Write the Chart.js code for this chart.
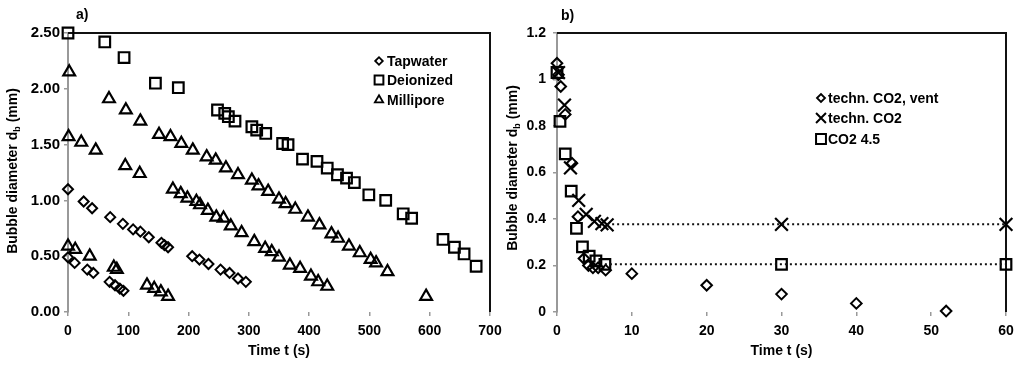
<!DOCTYPE html>
<html><head><meta charset="utf-8">
<script src="https://cdn.jsdelivr.net/npm/chart.js@4.4.1/dist/chart.umd.min.js"></script>
<style>
html,body{margin:0;padding:0;background:#fff;width:1024px;height:366px;overflow:hidden}
#ca{position:absolute;left:0;top:0}
#cb{position:absolute;left:500px;top:0}
</style></head><body>
<canvas id="ca" width="512" height="366"></canvas>
<canvas id="cb" width="524" height="366"></canvas>
<script>
// ---------- Panel a) data : time t (s) / bubble diameter (mm) ----------
const tapT1 = [0, 26, 40, 70, 91, 108, 120, 134, 155, 160, 166, 206, 218, 233, 253, 268, 282, 295];
const tapD1 = [1.10, 0.99, 0.93, 0.85, 0.79, 0.74, 0.72, 0.67, 0.62, 0.60, 0.58, 0.50, 0.47, 0.43, 0.38, 0.35, 0.30, 0.27];
const tapT2 = [0, 11, 32, 42, 69, 78, 86, 92];
const tapD2 = [0.49, 0.44, 0.38, 0.35, 0.27, 0.24, 0.21, 0.19];

const deiT = [0, 61, 93, 145, 183, 248, 260, 266, 277, 305, 313, 328, 356, 365, 389, 413, 430, 447, 462, 475, 499, 527, 556, 570, 622, 641, 657, 677];
const deiD = [2.50, 2.42, 2.28, 2.05, 2.01, 1.81, 1.78, 1.75, 1.71, 1.66, 1.63, 1.60, 1.51, 1.50, 1.37, 1.35, 1.29, 1.23, 1.20, 1.16, 1.05, 1.00, 0.88, 0.84, 0.65, 0.58, 0.52, 0.41];

const milT1 = [2, 68, 96, 120, 151, 170, 188, 207, 230, 245, 262, 282, 305, 316, 332, 350, 361, 377, 398, 417, 437, 448, 466, 484, 502, 511, 530, 594];
const milD1 = [2.15, 1.91, 1.81, 1.71, 1.59, 1.57, 1.51, 1.45, 1.39, 1.36, 1.29, 1.23, 1.18, 1.13, 1.08, 1.01, 0.97, 0.92, 0.85, 0.78, 0.70, 0.66, 0.59, 0.53, 0.47, 0.44, 0.36, 0.14];
const milT2 = [1, 22, 46, 95, 119, 174, 187, 198, 213, 219, 232, 246, 258, 270, 288, 309, 327, 338, 350, 368, 385, 403, 415, 430];
const milD2 = [1.57, 1.52, 1.45, 1.31, 1.24, 1.10, 1.06, 1.02, 0.99, 0.96, 0.91, 0.85, 0.84, 0.77, 0.71, 0.63, 0.57, 0.54, 0.49, 0.42, 0.39, 0.32, 0.27, 0.23];
const milT3 = [0, 12, 36, 76, 81, 131, 143, 154, 166];
const milD3 = [0.59, 0.56, 0.50, 0.40, 0.38, 0.24, 0.21, 0.18, 0.14];

const aLegend = ['Tapwater', 'Deionized', 'Millipore'];
const aXTicks = [0, 700, 100];      // min, max, step
const aYTicks = [0, 2.5, 0.5];

// ---------- Panel b) data ----------
const ventT = [0, 0.2, 0.5, 1.1, 2.0, 2.8, 3.6, 4.2, 4.8, 5.5, 6.5, 10, 20, 30, 40, 52];
const ventD = [1.07, 1.02, 0.97, 0.85, 0.64, 0.41, 0.23, 0.20, 0.19, 0.19, 0.18, 0.165, 0.115, 0.077, 0.037, 0.004];
const techT = [0.2, 1.0, 1.8, 2.9, 3.9, 5.0, 6.0, 6.7, 30, 60];
const techD = [1.03, 0.89, 0.62, 0.48, 0.42, 0.39, 0.38, 0.375, 0.377, 0.377];
const co2T = [0, 0.4, 1.1, 1.9, 2.6, 3.4, 4.3, 5.2, 6.4, 30, 60];
const co2D = [1.03, 0.82, 0.68, 0.52, 0.36, 0.28, 0.24, 0.22, 0.205, 0.205, 0.205];
const techLineT = [6.7, 30, 60];
const techLineD = [0.377, 0.377, 0.377];
const co2LineT = [6.4, 30, 60];
const co2LineD = [0.205, 0.205, 0.205];

const bLegend = ['techn. CO2, vent', 'techn. CO2', 'CO2 4.5'];
const bXTicks = [0, 60, 10];
const bYTicks = [0, 1.2, 0.2];

// ---------- helpers ----------
const FONT = "'Liberation Sans', Arial, sans-serif";
const pts = (xs, ys) => xs.map((x, i) => ({x: x, y: ys[i]}));

function scatterSet(label, data, style, r, bw) {
  return {label, data, showLine: false, pointStyle: style, pointRadius: r, pointHoverRadius: r,
    pointBorderWidth: bw, borderColor: '#000', pointBorderColor: '#000',
    backgroundColor: 'rgba(0,0,0,0)', pointBackgroundColor: 'rgba(0,0,0,0)', clip: false};
}
function dottedSet(data) {
  return {label: '', data, showLine: true, pointRadius: 0, borderColor: '#111', borderWidth: 2,
    borderDash: [2, 3], fill: false, clip: false};
}

function marker(ctx, style, x, y, r, lw) {
  ctx.save();
  ctx.strokeStyle = '#000'; ctx.lineWidth = lw; ctx.beginPath();
  if (style === 'rectRot') {
    ctx.moveTo(x - r, y); ctx.lineTo(x, y - r); ctx.lineTo(x + r, y); ctx.lineTo(x, y + r); ctx.closePath();
  } else if (style === 'rect') {
    const s = r * Math.SQRT1_2; ctx.rect(x - s, y - s, 2 * s, 2 * s);
  } else if (style === 'triangle') {
    let a = 0;
    ctx.moveTo(x + Math.sin(a) * r, y - Math.cos(a) * r);
    a += 2 * Math.PI / 3; ctx.lineTo(x + Math.sin(a) * r, y - Math.cos(a) * r);
    a += 2 * Math.PI / 3; ctx.lineTo(x + Math.sin(a) * r, y - Math.cos(a) * r);
    ctx.closePath();
  } else if (style === 'crossRot') {
    const s = r * Math.SQRT1_2;
    ctx.moveTo(x - s, y - s); ctx.lineTo(x + s, y + s); ctx.moveTo(x + s, y - s); ctx.lineTo(x - s, y + s);
  }
  ctx.stroke(); ctx.restore();
}

function decor(o) {
  return {
    id: 'decor',
    beforeDatasetsDraw(chart) {
      const c = chart.ctx, a = chart.chartArea;
      c.save(); c.strokeStyle = '#111'; c.lineWidth = 2;
      c.beginPath(); c.moveTo(a.left, a.top); c.lineTo(a.right, a.top); c.lineTo(a.right, a.bottom); c.stroke();
      c.restore();
    },
    afterDraw(chart) {
      const c = chart.ctx;
      c.save();
      c.fillStyle = '#000'; c.textBaseline = 'middle'; c.textAlign = 'left';
      c.font = 'bold 14px ' + FONT;
      c.fillText(o.tag, o.tagX, o.tagY);
      // legend
      o.legend.forEach(l => {
        marker(c, l.style, l.mx, l.y, l.r, l.lw);
        c.fillStyle = '#000'; c.font = 'bold 14px ' + FONT; c.textAlign = 'left';
        c.fillText(l.text, l.tx, l.y + 1);
      });
      // y title with subscript
      const big = 'bold 14px ' + FONT, small = 'bold 9px ' + FONT;
      const p1 = 'Bubble diameter d', p2 = 'b', p3 = ' (mm)';
      c.font = big; const w1 = c.measureText(p1).width, w3 = c.measureText(p3).width;
      c.font = small; const w2 = c.measureText(p2).width;
      const tot = w1 + w2 + w3;
      c.translate(o.ytX, o.ytY); c.rotate(-Math.PI / 2);
      c.textBaseline = 'alphabetic';
      let x0 = -tot / 2;
      c.font = big; c.fillText(p1, x0, 5); x0 += w1;
      c.font = small; c.fillText(p2, x0, 8); x0 += w2;
      c.font = big; c.fillText(p3, x0, 5);
      c.restore();
    }
  };
}

function makeChart(id, o) {
  return new Chart(document.getElementById(id), {
    type: 'scatter',
    data: {datasets: o.datasets},
    options: {
      responsive: false, animation: false, devicePixelRatio: 1,
      layout: {padding: {top: 33, right: o.padRight, bottom: 0, left: 0}},
      plugins: {legend: {display: false}, tooltip: {enabled: false}},
      scales: {
        x: {
          type: 'linear', min: o.xt[0], max: o.xt[1],
          afterFit: s => { s.height = 54; },
          ticks: {stepSize: o.xt[2], color: '#000', font: {family: FONT, size: 14, weight: 'bold'},
            padding: 7, maxRotation: 0, autoSkip: false},
          grid: {display: true, drawOnChartArea: false, drawTicks: true, tickLength: 4, color: '#999', lineWidth: 1.5},
          border: {display: false},
          title: {display: true, text: 'Time t (s)', color: '#000',
            font: {family: FONT, size: 14, weight: 'bold'}, padding: {top: 0, bottom: 6}}
        },
        y: {
          type: 'linear', min: o.yt[0], max: o.yt[1],
          afterFit: s => { s.width = o.yWidth; },
          ticks: {stepSize: o.yt[2], color: '#000', font: {family: FONT, size: o.ySize, weight: 'bold'},
            padding: o.yPad, callback: o.yFmt},
          grid: {display: true, drawOnChartArea: false, drawTicks: true, tickLength: 4, color: '#999', lineWidth: 1.5},
          border: {display: true, color: '#999', width: 2}
        }
      }
    },
    plugins: [decor(o)]
  });
}

// ---------- Panel a ----------
makeChart('ca', {
  xt: aXTicks, yt: aYTicks, yWidth: 68, padRight: 22, ySize: 15, yPad: 4,
  yFmt: v => Number(v).toFixed(2),
  tag: 'a)', tagX: 76, tagY: 15, ytX: 12, ytY: 171,
  datasets: [
    scatterSet(aLegend[0], pts(tapT1.concat(tapT2), tapD1.concat(tapD2)), 'rectRot', 5, 2),
    scatterSet(aLegend[1], pts(deiT, deiD), 'rect', 7.5, 2.2),
    scatterSet(aLegend[2], pts(milT1.concat(milT2, milT3), milD1.concat(milD2, milD3)), 'triangle', 6.8, 2.2)
  ],
  legend: [
    {style: 'rectRot', r: 3.8, lw: 1.8, mx: 379, tx: 387, y: 61, text: aLegend[0]},
    {style: 'rect', r: 6.2, lw: 2, mx: 379, tx: 387, y: 80, text: aLegend[1]},
    {style: 'triangle', r: 4.8, lw: 1.8, mx: 379, tx: 387, y: 100, text: aLegend[2]}
  ]
});

// ---------- Panel b ----------
makeChart('cb', {
  xt: bXTicks, yt: bYTicks, yWidth: 57, padRight: 18, ySize: 14, yPad: 7,
  yFmt: v => String(Math.round(v * 10) / 10),
  tag: 'b)', tagX: 61, tagY: 16, ytX: 12, ytY: 168,
  datasets: [
    dottedSet(pts(techLineT, techLineD)),
    dottedSet(pts(co2LineT, co2LineD)),
    scatterSet(bLegend[0], pts(ventT, ventD), 'rectRot', 5.3, 2),
    scatterSet(bLegend[1], pts(techT, techD), 'crossRot', 9, 2.2),
    scatterSet(bLegend[2], pts(co2T, co2D), 'rect', 7.5, 2.2)
  ],
  legend: [
    {style: 'rectRot', r: 4, lw: 1.8, mx: 321, tx: 328, y: 98, text: bLegend[0]},
    {style: 'crossRot', r: 7, lw: 2, mx: 321, tx: 328, y: 118, text: bLegend[1]},
    {style: 'rect', r: 7, lw: 2, mx: 321, tx: 328, y: 139, text: bLegend[2]}
  ]
});
</script>
</body></html>
